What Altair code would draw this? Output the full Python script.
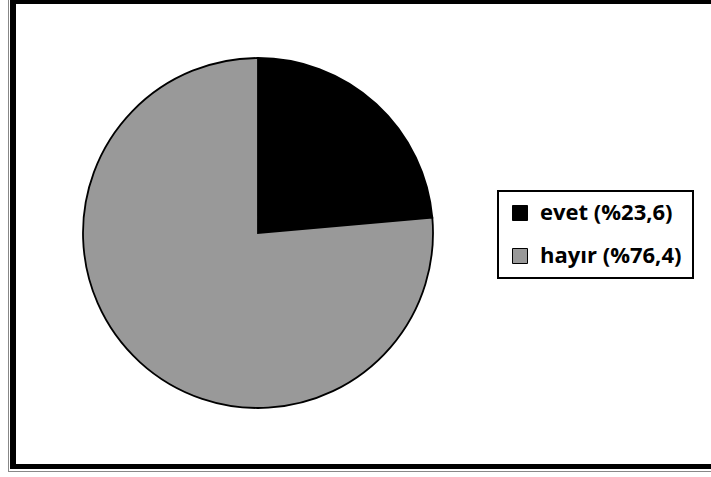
import altair as alt
import pandas as pd

categories = ["evet (%23,6)", "hayır (%76,4)"]
values = [23.6, 76.4]
colors = ["#000000", "#999999"]

df = pd.DataFrame({"cat": categories, "val": values, "order": list(range(len(categories)))})

pie = alt.Chart(df).mark_arc(radius=175, stroke="black", strokeWidth=1.8).encode(
    theta=alt.Theta("val:Q", stack=True),
    order=alt.Order("order:Q"),
    color=alt.Color(
        "cat:N",
        scale=alt.Scale(domain=categories, range=colors),
        sort=categories,
        legend=alt.Legend(title=None),
    ),
    x=alt.value(258),
    y=alt.value(233),
)

one = alt.Data(values=[{"a": 1}])

def band(x, x2, y, y2, color):
    return alt.Chart(one).mark_rect(color=color).encode(
        x=alt.value(x), x2=alt.value(x2), y=alt.value(y), y2=alt.value(y2)
    )

frame = [
    band(8, 9, 0, 472, "#888888"),
    band(8, 711, 471, 472, "#888888"),
    band(10, 16, 0, 469, "#000000"),
    band(10, 711, 0, 4, "#000000"),
    band(10, 711, 464, 469, "#000000"),
]

chart = alt.layer(*frame, pie).properties(
    width=711, height=477, autosize=alt.AutoSizeParams(type="none"), padding=0
).configure_view(stroke=None).configure_legend(
    orient="none",
    legendX=498,
    legendY=191,
    strokeColor="black",
    strokeWidth=2,
    padding=11,
    symbolType="square",
    symbolSize=225,
    symbolStrokeColor="black",
    symbolStrokeWidth=1,
    labelFont="Open Sans",
    labelFontWeight="bold",
    labelFontSize=22,
    labelColor="black",
    labelOffset=9,
    labelLimit=400,
    rowPadding=21,
)

chart.save("out.html", embed_options={"renderer": "svg", "actions": False})
